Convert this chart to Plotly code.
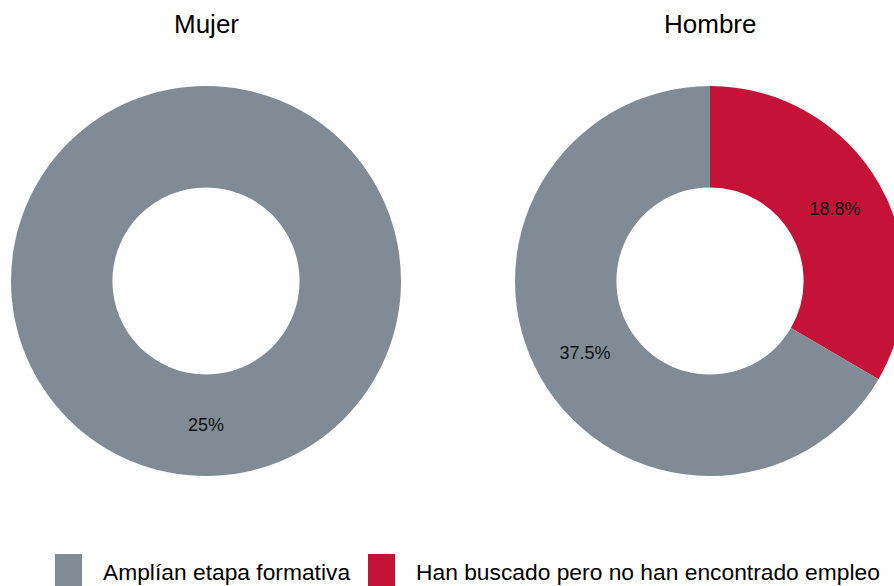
import plotly.graph_objects as go

# Data
groups = ["Mujer", "Hombre"]
categories = ["Amplían etapa formativa", "Han buscado pero no han encontrado empleo"]
mujer_labels = ["Amplían etapa formativa"]
mujer_values = [25]
hombre_labels = ["Han buscado pero no han encontrado empleo", "Amplían etapa formativa"]
hombre_values = [18.8, 37.5]

colors = {
    "Amplían etapa formativa": "#818b95",
    "Han buscado pero no han encontrado empleo": "#c41337",
}

FONT = "Liberation Sans, Arial, sans-serif"
W, H = 906, 586


def fx(px):
    return px / W


def fy(py):
    return 1 - py / H


fig = go.Figure()

pie_common = dict(
    hole=0.48,
    sort=False,
    direction="clockwise",
    rotation=0,
    textposition="inside",
    insidetextorientation="horizontal",
    texttemplate="%{value}%",
    textfont=dict(family=FONT, size=18, color="#111111"),
    marker_line_width=0,
    showlegend=False,
    hoverinfo="label+value",
)

fig.add_trace(go.Pie(
    labels=mujer_labels, values=mujer_values,
    marker_colors=[colors[c] for c in mujer_labels],
    domain=dict(x=[fx(11), fx(401)], y=[fy(476), fy(86)]),
    name="Mujer",
    **pie_common,
))
fig.add_trace(go.Pie(
    labels=hombre_labels, values=hombre_values,
    marker_colors=[colors[c] for c in hombre_labels],
    domain=dict(x=[fx(515), fx(905)], y=[fy(476), fy(86)]),
    name="Hombre",
    **pie_common,
))

annotations = []
# Panel titles
for name, cx in zip(groups, [206, 710]):
    annotations.append(dict(
        text=name, x=fx(cx), y=fy(24), xref="paper", yref="paper",
        xanchor="center", yanchor="middle", showarrow=False,
        font=dict(family=FONT, size=26, color="#000000"),
    ))

# Legend: colored squares with labels along the bottom
shapes = []
legend_items = [(55, 101), (368, 414)]
for cat, (sx, tx) in zip(categories, legend_items):
    shapes.append(dict(
        type="rect", xref="paper", yref="paper",
        x0=fx(sx), x1=fx(sx + 27), y0=fy(590), y1=fy(554),
        fillcolor=colors[cat], line=dict(width=0),
    ))
    annotations.append(dict(
        text=cat, x=fx(tx), y=fy(572), xref="paper", yref="paper",
        xanchor="left", yanchor="middle", showarrow=False,
        font=dict(family=FONT, size=22.8, color="#000000"),
    ))

fig.update_layout(
    width=W, height=H, autosize=False,
    margin=dict(l=0, r=0, t=0, b=0),
    paper_bgcolor="white", plot_bgcolor="white",
    annotations=annotations, shapes=shapes,
    font=dict(family=FONT),
)

fig.write_html(
    "out.html",
    post_script="document.documentElement.style.overflow='hidden';document.body.style.overflow='hidden';document.body.style.margin='0';",
)
